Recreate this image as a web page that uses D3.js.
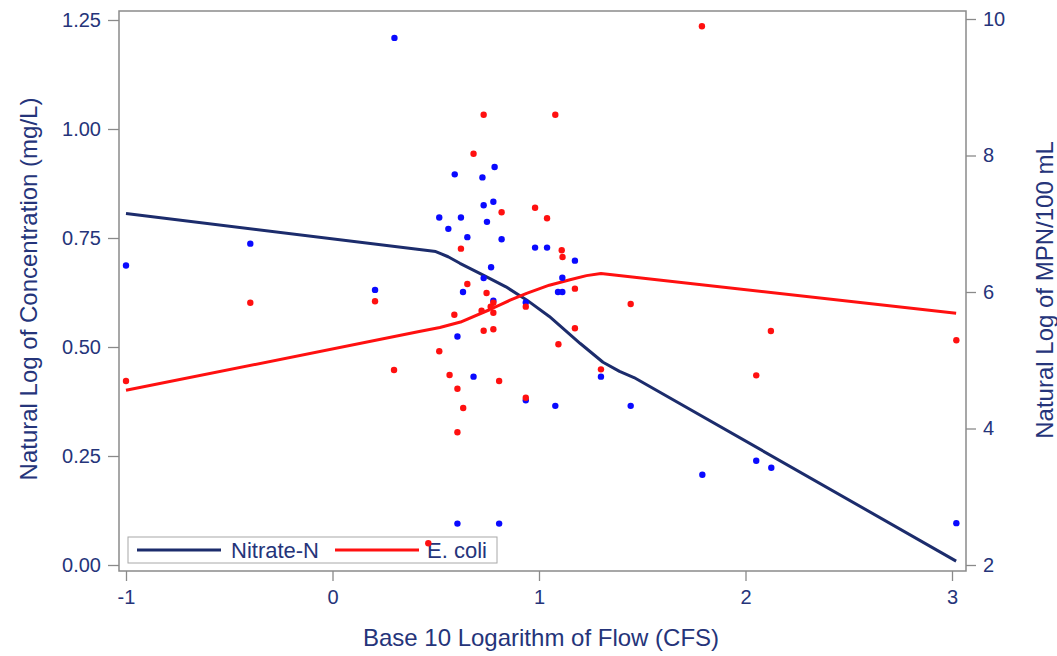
<!DOCTYPE html>
<html><head><meta charset="utf-8">
<script src="https://cdn.jsdelivr.net/npm/d3@7"></script>
<style>body{margin:0;background:#fff}svg{display:block}text{font-family:"Liberation Sans",Arial,sans-serif}</style>
</head><body><svg id="c" width="1057" height="656"></svg>
<script>
const xTicks = [-1, 0, 1, 2, 3];
const yLeftTicks = [0, 0.25, 0.5, 0.75, 1.0, 1.25];
const yRightTicks = [2, 4, 6, 8, 10];
const seriesNames = ["Nitrate-N", "E. coli"];

// Nitrate-N observations: [log10 flow, ln concentration]
const nitrateX = [-1.0,-0.398,0.206,0.300,0.517,0.561,0.592,0.785,0.726,0.732,0.779,0.622,0.748,0.653,0.819,0.981,1.039,1.174,0.768,0.732,1.113,0.632,1.092,1.113,0.779,0.936,0.605,0.683,1.300,0.936,1.079,1.444,1.791,2.052,2.125,3.021,0.605,0.807];
const nitrateY = [0.687,0.737,0.631,1.209,0.797,0.771,0.896,0.913,0.889,0.825,0.833,0.797,0.787,0.752,0.747,0.728,0.728,0.698,0.683,0.658,0.659,0.626,0.626,0.626,0.606,0.602,0.524,0.432,0.432,0.378,0.365,0.365,0.207,0.239,0.223,0.096,0.095,0.095];
// E. coli observations: [log10 flow, ln MPN/100 mL]
const ecoliX = [-1.0,-0.398,0.206,0.298,0.464,0.732,1.079,0.683,0.819,0.981,1.039,0.622,1.110,1.114,0.653,0.746,1.174,0.779,0.766,0.779,0.722,0.590,0.936,1.444,1.174,0.732,0.779,1.094,0.517,0.567,0.807,1.300,0.605,0.936,0.633,0.605,1.789,2.123,2.052,3.021];
const ecoliY = [4.696,5.843,5.864,4.857,2.318,8.598,8.598,8.026,7.168,7.235,7.080,6.635,6.611,6.513,6.117,5.985,6.049,5.843,5.785,5.697,5.726,5.667,5.785,5.824,5.468,5.433,5.454,5.234,5.131,4.784,4.696,4.867,4.583,4.451,4.300,3.944,9.893,5.429,4.779,5.292];
// smoothed fits
const nitrateFitX = [-1.0,0.5,0.56,0.617,0.73,0.84,0.94,1.05,1.20,1.31,1.39,1.46,3.02];
const nitrateFitY = [0.806,0.719,0.707,0.692,0.665,0.638,0.608,0.570,0.508,0.465,0.444,0.430,0.009];
const ecoliFitX = [-1.0,0.42,0.52,0.62,0.76,0.86,0.94,1.05,1.15,1.23,1.30,3.02];
const ecoliFitY = [4.56,5.42,5.48,5.56,5.74,5.88,5.98,6.10,6.18,6.24,6.27,5.69];

const textCol = "#25347a", frameCol = "#8a8a8a";
const navy = "#1c2c6c", blueDot = "#0a0aff", red = "#ff1010";
const L = 119, R = 966, T = 11, B = 571;

const svg = d3.select("#c");
const x = d3.scaleLinear().domain([-1, 3]).range([126, 952]);
const yL = d3.scaleLinear().domain([0, 1.25]).range([565, 20]);
const yR = d3.scaleLinear().domain([2, 10]).range([565, 19]);

svg.append("rect").attr("x", L).attr("y", T).attr("width", R - L).attr("height", B - T)
  .attr("fill", "#fff").attr("stroke", frameCol).attr("stroke-width", 1.5);

function styleAxis(g) {
  g.select(".domain").remove();
  g.selectAll(".tick line").attr("stroke", frameCol).attr("stroke-width", 1.3);
  g.selectAll(".tick text").attr("fill", textCol).attr("font-size", 20);
}
svg.append("g").attr("transform", `translate(0,${B})`)
  .call(d3.axisBottom(x).tickValues(xTicks).tickFormat(d => String(d)).tickSizeOuter(0).tickSize(10).tickPadding(9))
  .call(styleAxis);
svg.append("g").attr("transform", `translate(${L},0)`)
  .call(d3.axisLeft(yL).tickValues(yLeftTicks).tickFormat(d3.format(".2f")).tickSizeOuter(0).tickSize(11).tickPadding(7))
  .call(styleAxis);
svg.append("g").attr("transform", `translate(${R},0)`)
  .call(d3.axisRight(yR).tickValues(yRightTicks).tickFormat(d => String(d)).tickSizeOuter(0).tickSize(10).tickPadding(7))
  .call(styleAxis);
svg.selectAll(".tick text").attr("font-family", "Liberation Sans, Arial, sans-serif");

svg.append("text").attr("x", 541).attr("y", 646).attr("text-anchor", "middle")
  .attr("fill", textCol).attr("font-size", 24).text("Base 10 Logarithm of Flow (CFS)");
svg.append("text").attr("transform", "translate(37,289) rotate(-90)").attr("text-anchor", "middle")
  .attr("fill", textCol).attr("font-size", 24).text("Natural Log of Concentration (mg/L)");
svg.append("text").attr("transform", "translate(1053,290) rotate(-90)").attr("text-anchor", "middle")
  .attr("fill", textCol).attr("font-size", 24).text("Natural Log of MPN/100 mL");

// legend
const lg = svg.append("g");
lg.append("rect").attr("x", 128).attr("y", 537).attr("width", 369).attr("height", 26)
  .attr("fill", "#fff").attr("stroke", "#a8a8a8").attr("stroke-width", 1);
lg.append("line").attr("x1", 137).attr("x2", 221).attr("y1", 550).attr("y2", 550).attr("stroke", navy).attr("stroke-width", 3);
lg.append("text").attr("x", 231).attr("y", 558).attr("fill", textCol).attr("font-size", 22).text(seriesNames[0]);
lg.append("line").attr("x1", 335).attr("x2", 419).attr("y1", 550).attr("y2", 550).attr("stroke", red).attr("stroke-width", 3);
lg.append("text").attr("x", 427).attr("y", 558).attr("fill", textCol).attr("font-size", 22).text(seriesNames[1]);

// fit lines
const nitrateFit = nitrateFitX.map((v, i) => [v, nitrateFitY[i]]);
const ecoliFit = ecoliFitX.map((v, i) => [v, ecoliFitY[i]]);
svg.append("path").datum(nitrateFit)
  .attr("d", d3.line().x(d => x(d[0])).y(d => yL(d[1])))
  .attr("fill", "none").attr("stroke", navy).attr("stroke-width", 3).attr("stroke-linejoin", "round");
svg.append("path").datum(ecoliFit)
  .attr("d", d3.line().x(d => x(d[0])).y(d => yR(d[1])))
  .attr("fill", "none").attr("stroke", red).attr("stroke-width", 3).attr("stroke-linejoin", "round");

// points
svg.append("g").selectAll("circle").data(nitrateX.map((v, i) => [v, nitrateY[i]])).join("circle")
  .attr("cx", d => x(d[0])).attr("cy", d => yL(d[1])).attr("r", 3.2).attr("fill", blueDot);
svg.append("g").selectAll("circle").data(ecoliX.map((v, i) => [v, ecoliY[i]])).join("circle")
  .attr("cx", d => x(d[0])).attr("cy", d => yR(d[1])).attr("r", 3.2).attr("fill", red);
</script></body></html>
